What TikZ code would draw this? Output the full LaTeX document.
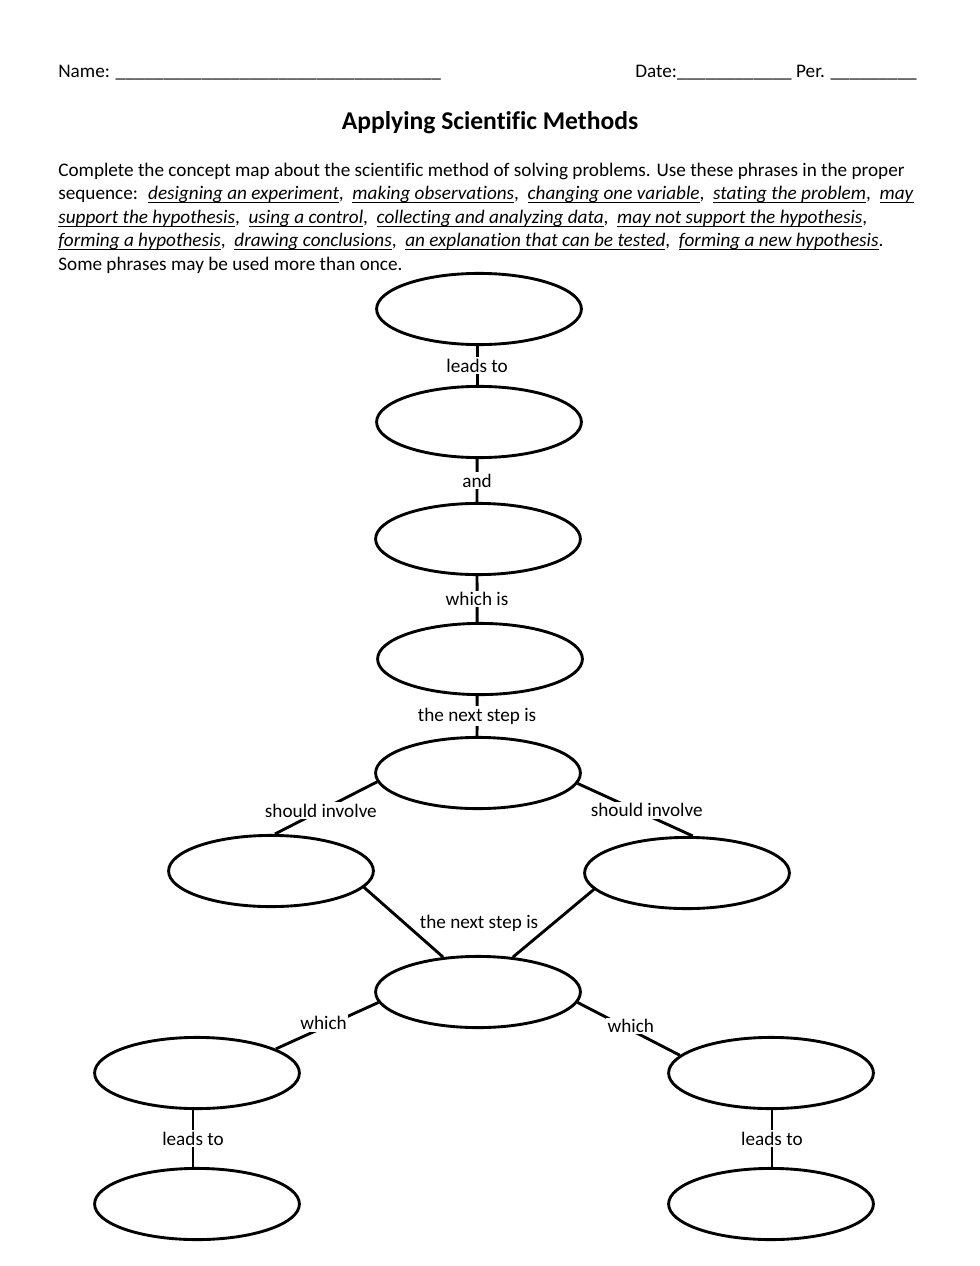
\documentclass[tikz,border=0pt]{standalone}
\usepackage{fontspec}
\setmainfont{Carlito}[Ligatures=NoCommon]
\usetikzlibrary{shapes.geometric}
\newsavebox{\phbox}
\newcommand{\ph}[1]{\sbox{\phbox}{\textit{#1}}\rlap{\rule[-2pt]{\wd\phbox}{0.6pt}}\usebox{\phbox}}
\begin{document}
\begin{tikzpicture}[x=0.625pt,y=-0.625pt,
  bub/.style={draw, line width=1.8pt, ellipse, minimum width=128pt, minimum height=44.5pt, inner sep=0pt},
  con/.style={line width=1.8pt},
  lbl/.style={fill=white, inner sep=1pt, font=\fontsize{12}{14}\selectfont},
  txt/.style={anchor=base west, inner sep=0pt, font=\fontsize{12}{14.6}\selectfont}]
\useasboundingbox (0,0) rectangle (979,1266);
\fill[white] (0,0) rectangle (979,1266);
% header
\node[txt] (name) at (58,78) {Name: \_\_\_\_\_\_\_\_\_\_\_\_\_\_\_\_\_\_\_\_\_\_\_\_\_\_\_\_\_\_\_\_\_\_};
\node[txt, anchor=base east] (date) at (917,78) {Date:\_\_\_\_\_\_\_\_\_\_\_\_ Per. \_\_\_\_\_\_\_\_\_};
\node[inner sep=0pt, font=\fontsize{16}{19}\selectfont\bfseries] (title) at (490,123) {Applying Scientific Methods};
\node[txt] (p1) at (58,177) {Complete the concept map about the scientific method of solving problems. Use these phrases in the proper};
\node[txt] (p2) at (58,200) {sequence:~ \ph{designing an experiment},~ \ph{making observations},~ \ph{changing one variable},~ \ph{stating the problem},~ \ph{may}};
\node[txt] (p3) at (58,224) {\ph{support the hypothesis},~ \ph{using a control},~ \ph{collecting and analyzing data},~ \ph{may not support the hypothesis},};
\node[txt] (p4) at (58,247) {\ph{forming a hypothesis},~ \ph{drawing conclusions},~ \ph{an explanation that can be tested},~ \ph{forming a new hypothesis}.};
\node[txt] (p5) at (58,271) {Some phrases may be used more than once.};
% bubbles
\node[bub] (e1) at (479,309) {};
\node[bub] (e2) at (479,422) {};
\node[bub] (e3) at (478,539) {};
\node[bub] (e4) at (480,659) {};
\node[bub] (e5) at (478,773) {};
\node[bub] (e6) at (271,871) {};
\node[bub] (e7) at (687,873) {};
\node[bub] (e8) at (478,992) {};
\node[bub] (e9) at (197,1073) {};
\node[bub] (e10) at (771,1073) {};
\node[bub] (e11) at (197,1204) {};
\node[bub] (e12) at (771,1204) {};
% connectors
\draw[con] ([xshift=-1.2pt]e1.south) -- ([xshift=-1.2pt]e2.north) node[lbl, midway] {leads to};
\draw[con] ([xshift=-1.2pt]e2.south) -- ([xshift=-0.6pt]e3.north) node[lbl, midway] {and};
\draw[con] ([xshift=-0.6pt]e3.south) -- ([xshift=-1.8pt]e4.north) node[lbl, midway] {which is};
\draw[con] ([xshift=-1.8pt]e4.south) -- ([xshift=-0.6pt]e5.north) node[lbl, midway] {the next step is};
\draw[con] (e5.185) -- (e6.84) node[lbl, pos=0.55] {should involve};
\draw[con] (e5.354) -- (e7.81) node[lbl, pos=0.6, yshift=3pt] {should involve};
\draw[con] (e6.350) -- (e8.135);
\draw[con] (e7.190) -- (e8.45);
\node[lbl, fill=none] (nx) at (479,923) {the next step is};
\draw[con] (e8.186) -- (e9.17) node[lbl, pos=0.535, yshift=2.5pt] {which};
\draw[con] (e8.354) -- (e10.169) node[lbl, pos=0.52, yshift=2.4pt] {which};
\draw[con] ([xshift=-2.5pt]e9.south) -- ([xshift=-2.5pt]e11.north) node[lbl, midway] {leads to};
\draw[con] ([xshift=0.6pt]e10.south) -- ([xshift=0.6pt]e12.north) node[lbl, midway] {leads to};
\end{tikzpicture}
\end{document}
